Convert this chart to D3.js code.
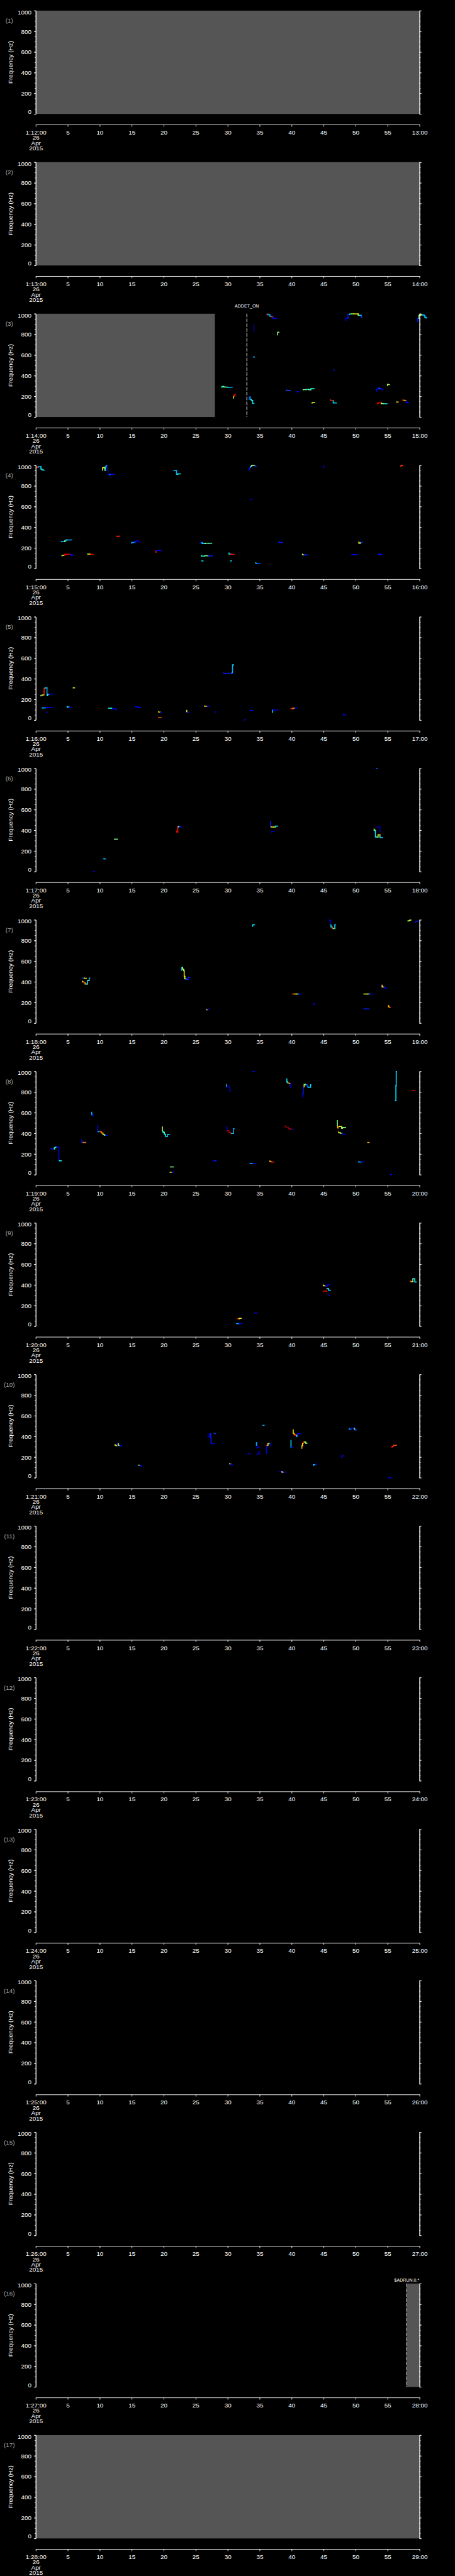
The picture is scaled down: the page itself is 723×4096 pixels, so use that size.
<!DOCTYPE html>
<html><head><meta charset="utf-8">
<script src="https://cdn.jsdelivr.net/npm/d3@7"></script>
<style>html,body{margin:0;padding:0;background:#000;overflow:hidden}</style>
</head><body><div id="chart"></div>
<script>
// ---------- DATA ----------
const startLabels = ["1:12:00","1:13:00","1:14:00","1:15:00","1:16:00","1:17:00","1:18:00","1:19:00","1:20:00","1:21:00","1:22:00","1:23:00","1:24:00","1:25:00","1:26:00","1:27:00","1:28:00"];
const endLabels = ["13:00","14:00","15:00","16:00","17:00","18:00","19:00","20:00","21:00","22:00","23:00","24:00","25:00","26:00","27:00","28:00","29:00"];
const minuteTicks = [0,5,10,15,20,25,30,35,40,45,50,55,60];
const dateLines = ["26","Apr","2015"];
const freqTicks = [0,200,400,600,800,1000];
const freqMinor = d3.range(0,1001,50);
const axisTitle = "Frequency (Hz)";
// [panel, fromMinute, toMinute]
const grayBlocks = [[1,0,60],[2,0,60],[3,0,28],[16,58,60],[17,0,60]];
// [panel, minute, label]
const events = [[3,33,"ADDET_ON"],[16,58,"$ADRUN,0,*"]];

// tracks: [minute, Hz, colour level 0..1]
const tracks3 = [
 [[29.1,285,0.3],[29.4,295,0.4],[29.9,290,0.5],[30.2,288,0.35],[30.7,288,0.3]],
 [[30.9,183,0.5],[31.0,200,0.6],[31.1,215,0.9],[31.25,215,0.9]],
 [[33.35,173,0.1],[33.5,193,0.2],[33.7,170,0.3],[33.9,160,0.4],[34.1,131,0.35]],
 [[34.1,892,0.05],[34.15,832,0.05]],
 [[34.05,584,0.85],[34.2,580,0.3]],
 [[36.15,988,0.4],[36.3,995,0.85],[36.6,990,0.3],[36.9,975,0.3],[37.1,968,0.85],[37.6,954,0.1]],
 [[37.8,795,0.2],[38.0,820,0.5]],
 [[39.2,262,0.1],[39.8,258,0.2]],
 [[40.8,245,0.15],[41.1,245,0.1]],
 [[41.8,262,0.3],[42.3,266,0.5],[42.6,268,0.4],[43.0,264,0.5],[43.5,275,0.4]],
 [[43.2,135,0.55],[43.6,139,0.6]],
 [[46.55,455,0.1],[46.7,455,0.15]],
 [[46.1,169,0.2],[46.5,157,0.85],[47.0,136,0.35]],
 [[48.5,935,0.05],[48.8,957,0.1],[49.05,993,0.15],[49.3,998,0.35],[49.7,998,0.55],[50.4,998,0.6],[50.5,985,0.65],[50.9,985,0.4],[51.0,967,0.2]],
 [[53.25,245,0.05],[53.5,270,0.1],[53.7,280,0.15],[54.0,275,0.2],[54.3,265,0.1]],
 [[55.0,305,0.55],[55.1,316,0.6],[55.3,314,0.5]],
 [[53.4,125,0.1],[53.6,135,0.9],[54.0,137,0.9],[54.3,130,0.6],[54.9,128,0.4]],
 [[56.4,145,0.65],[56.65,145,0.6]],
 [[57.4,165,0.85],[57.7,162,0.8],[57.9,157,0.65],[58.1,140,0.1],[58.3,137,0.1]],
 [[59.7,925,0.1],[59.9,955,0.15],[60.2,985,0.5],[60.5,990,0.55],[60.8,985,0.3],[61.0,965,0.3],[61.1,960,0.35]]
];
const tracks4 = [
 [[0.2,984,0.6],[0.4,981,0.85],[0.8,987,0.3],[0.95,962,0.35],[1.2,955,0.4],[1.35,951,0.3]],
 [[10.45,951,0.6],[10.6,977,0.6],[10.8,977,0.6],[10.9,951,0.6],[11.0,984,0.35],[11.2,998,0.3],[11.3,948,0.05],[11.5,905,0.05],[11.8,912,0.2],[12.2,912,0.1]],
 [[21.6,951,0.35],[22.0,948,0.3],[22.2,912,0.3],[22.6,916,0.4]],
 [[33.4,951,0.05],[33.55,977,0.1],[33.75,991,0.3],[33.95,998,0.5],[34.3,998,0.55],[34.5,987,0.15]],
 [[44.95,998,0.3],[45.1,979,0.05]],
 [[57.1,985,0.65],[57.3,998,0.8],[57.4,998,0.85]],
 [[33.65,671,0.3],[33.8,668,0.1]],
 [[4.0,263,0.1],[4.5,260,0.3],[4.7,268,0.5],[4.9,277,0.35],[5.6,277,0.3]],
 [[4.1,123,0.1],[4.5,127,0.6],[4.8,138,0.9],[5.4,138,0.9],[5.6,132,0.1],[5.8,126,0.1]],
 [[8.1,140,0.85],[8.6,140,0.6],[9.0,137,0.9]],
 [[12.7,310,0.85],[13.1,313,0.85]],
 [[15.0,246,0.6],[15.4,252,0.3],[15.6,258,0.2],[16.0,268,0.1],[16.4,258,0.05]],
 [[18.8,157,0.3],[18.85,174,0.85],[19.6,174,0.1]],
 [[25.7,248,0.3],[26.0,252,0.1],[26.5,242,0.35],[27.0,245,0.5],[27.5,245,0.45]],
 [[25.9,127,0.35],[26.4,120,0.4],[27.0,123,0.5],[27.6,123,0.15]],
 [[25.95,74,0.35],[26.15,74,0.35]],
 [[30.2,151,0.3],[30.5,140,0.35],[31.0,137,0.85]],
 [[30.45,74,0.35],[30.6,74,0.35]],
 [[34.4,57,0.3],[34.6,50,0.35],[35.0,47,0.2]],
 [[38.0,258,0.35],[38.6,253,0.15]],
 [[41.7,138,0.7],[42.0,133,0.55],[42.5,132,0.15]],
 [[49.4,136,0.35],[50.3,135,0.1]],
 [[50.5,258,0.1],[50.7,246,0.65],[50.9,250,0.5],[51.1,255,0.15]],
 [[53.6,142,0.6],[53.9,137,0.15],[54.2,135,0.1]]
];
const tracks5 = [
 [[0.8,234,0.1],[1.1,240,0.5],[1.3,245,0.65],[1.45,309,0.85],[1.75,312,0.35],[1.85,239,0.3],[2.1,250,0.4],[2.66,252,0.1]],
 [[5.85,312,0.6],[6.05,312,0.6]],
 [[1.0,115,0.35],[1.5,118,0.3],[2.0,121,0.15],[2.66,123,0.1]],
 [[1.7,76,0.1],[1.9,76,0.1]],
 [[4.9,131,0.6],[5.2,127,0.4],[5.5,121,0.1]],
 [[11.4,115,0.1],[12.0,115,0.4],[12.5,110,0.1],[12.6,99,0.1]],
 [[15.5,131,0.35],[16.0,129,0.1],[16.4,121,0.1]],
 [[19.2,81,0.6],[19.5,77,0.65],[19.7,74,0.1]],
 [[19.2,24,0.8],[19.6,24,0.8]],
 [[23.6,94,0.4],[23.75,80,0.6],[24.0,73,0.1]],
 [[26.4,137,0.6],[26.8,134,0.65],[27.1,136,0.1]],
 [[28.05,78,0.1],[28.2,78,0.1]],
 [[29.4,458,0.2],[29.6,450,0.15],[30.6,450,0.15],[30.75,458,0.2],[30.8,530,0.3],[30.9,535,0.35]],
 [[32.6,2,0.1],[32.8,2,0.1]],
 [[33.5,98,0.35],[33.9,92,0.1]],
 [[37.0,74,0.3],[37.05,98,0.35],[37.8,98,0.1]],
 [[39.9,113,0.65],[40.2,110,0.85],[40.5,116,0.7],[40.9,116,0.1]],
 [[48.1,57,0.1],[48.5,50,0.1]]
];
const tracks6 = [
 [[9.0,2,0.1],[9.15,2,0.1]],
 [[10.65,129,0.1],[10.9,123,0.3]],
 [[12.3,314,0.5],[12.75,314,0.5]],
 [[22.0,393,0.75],[22.2,383,0.9],[22.3,434,0.85],[22.5,437,0.5],[22.8,430,0.1]],
 [[36.7,485,0.1],[36.8,434,0.15],[37.2,432,0.65],[37.5,432,0.6],[37.8,440,0.35]],
 [[36.9,382,0.1],[37.3,388,0.1]],
 [[52.9,412,0.5],[53.1,399,0.55],[53.25,335,0.35],[53.5,335,0.4],[53.55,356,0.6],[53.8,356,0.65],[53.9,332,0.5],[54.2,330,0.3]],
 [[53.3,433,0.3],[53.8,433,0.05],[53.85,388,0.05]],
 [[53.25,999,0.3],[53.45,996,0.2]]
];
const tracks7 = [
 [[7.35,436,0.1],[7.6,436,0.2],[7.9,434,0.65]],
 [[7.3,405,0.3],[7.5,400,0.6],[7.7,392,0.85],[7.9,379,0.7],[8.1,379,0.35],[8.15,412,0.35],[8.35,412,0.5],[8.45,436,0.3]],
 [[22.8,511,0.1],[22.95,539,0.3],[23.1,522,0.6],[23.2,508,0.5],[23.3,453,0.65],[23.5,429,0.6],[23.8,422,0.15],[24.1,443,0.15]],
 [[26.7,130,0.65],[26.9,130,0.6],[27.1,138,0.1]],
 [[33.9,937,0.1],[34.0,952,0.35],[34.2,952,0.35]],
 [[45.9,998,0.35],[46.05,995,0.1],[46.15,952,0.1],[46.35,930,0.35],[46.55,916,0.8],[46.75,916,0.5],[46.85,952,0.35]],
 [[40.15,282,0.9],[40.5,282,0.8],[40.8,282,0.65],[41.1,282,0.5],[41.5,282,0.1]],
 [[43.5,196,0.1],[43.6,181,0.05]],
 [[51.3,282,0.8],[51.8,282,0.65],[52.2,282,0.5],[52.7,282,0.1]],
 [[51.3,138,0.4],[52.1,138,0.15]],
 [[54.0,353,0.1],[54.15,367,0.1],[54.45,350,0.65],[54.85,340,0.1]],
 [[55.15,171,0.6],[55.3,158,0.7],[55.4,150,0.8]],
 [[58.2,987,0.4],[58.45,992,0.5],[58.65,998,0.6]],
 [[59.4,972,0.1],[59.55,987,0.1],[59.8,987,0.15]]
];
const tracks8 = [
 [[2.4,251,0.1],[2.9,248,0.15],[3.1,261,0.45],[3.3,268,0.35],[3.6,268,0.1],[3.7,137,0.1],[4.0,134,0.4]],
 [[7.2,337,0.1],[7.4,312,0.15],[7.8,312,0.75]],
 [[8.75,605,0.35],[8.9,580,0.3],[9.0,571,0.1]],
 [[9.7,476,0.05],[9.75,416,0.1],[10.1,420,0.3],[10.3,413,0.8],[10.5,402,0.75],[10.7,390,0.6],[10.95,382,0.5],[11.25,380,0.1]],
 [[19.8,462,0.6],[19.9,420,0.55],[20.1,409,0.4],[20.3,392,0.45],[20.55,369,0.35],[20.7,387,0.35],[20.9,387,0.3]],
 [[21.05,75,0.5],[21.5,75,0.5]],
 [[21.0,23,0.1],[21.3,23,0.65],[21.6,23,0.1]],
 [[27.75,140,0.1],[28.0,134,0.1],[28.2,134,0.15]],
 [[29.8,870,0.35],[29.9,853,0.3],[30.3,853,0.05],[30.4,813,0.05],[30.5,810,0.05]],
 [[29.9,462,0.05],[30.0,426,0.1],[30.2,423,0.95],[30.4,409,0.95],[30.6,400,0.95],[30.9,400,0.35],[31.0,445,0.3]],
 [[33.5,107,0.1],[34.0,107,0.3],[34.4,110,0.1]],
 [[33.9,999,0.3],[34.2,999,0.1]],
 [[36.6,132,0.5],[36.8,127,0.65],[37.2,122,0.85]],
 [[39.0,473,1.0],[39.2,462,1.0],[39.5,459,1.0],[39.7,445,1.0],[40.0,440,0.9],[40.2,440,0.1]],
 [[39.25,927,0.1],[39.3,900,0.35],[39.45,891,0.4],[39.65,884,0.8],[39.8,880,0.5],[39.9,846,0.1]],
 [[41.7,755,0.05],[41.8,781,0.1],[41.95,849,0.15],[42.15,874,0.65],[42.4,870,0.4],[42.55,856,0.1],[42.7,846,0.35],[42.95,846,0.3],[43.0,870,0.35]],
 [[47.15,523,0.05],[47.2,469,0.5],[47.3,452,0.65],[47.5,469,0.8],[47.8,466,0.6],[47.95,449,0.55],[48.1,456,0.5],[48.45,456,0.5]],
 [[47.35,414,0.35],[47.6,406,0.65],[47.9,400,0.5],[48.3,392,0.1]],
 [[51.9,312,0.75],[52.1,312,0.7]],
 [[50.5,128,0.35],[50.9,122,0.3],[51.3,125,0.1]],
 [[55.45,2,0.1],[55.65,2,0.1]],
 [[56.2,717,0.35],[56.3,717,0.35],[56.3,860,0.35],[56.35,860,0.35],[56.4,999,0.35]],
 [[58.85,814,0.9],[59.25,814,0.9]]
];
const tracks9 = [
 [[31.5,72,0.9],[31.8,72,0.85],[32.1,76,0.6]],
 [[31.4,25,0.35],[31.8,25,0.3],[32.2,25,0.1]],
 [[34.2,128,0.35],[34.6,128,0.1]],
 [[44.95,398,0.1],[45.3,392,0.65],[45.6,388,0.1],[46.0,400,0.1]],
 [[45.0,334,0.5],[45.2,341,0.9],[45.5,338,0.9],[45.55,364,0.95],[45.75,364,0.4],[45.85,348,0.35],[46.1,346,0.3]],
 [[45.7,309,0.1],[45.9,298,0.05]],
 [[58.55,441,0.6],[58.7,431,0.85],[58.95,431,0.6],[59.05,460,0.5],[59.25,458,0.4],[59.3,428,0.35],[59.5,428,0.35]]
];
const tracks10 = [
 [[12.4,321,0.1],[12.55,315,0.65],[12.75,311,0.6],[12.9,333,0.1],[13.05,313,0.6],[13.2,310,0.3],[13.45,310,0.1]],
 [[16.1,122,0.35],[16.3,120,0.5],[16.6,113,0.1]],
 [[26.9,397,0.3],[27.15,397,0.1],[27.2,426,0.1],[27.35,426,0.1],[27.4,387,0.15],[27.5,333,0.15],[27.9,330,0.1]],
 [[27.9,428,0.3],[28.05,428,0.2]],
 [[30.3,135,0.5],[30.5,135,0.65],[30.8,125,0.1]],
 [[33.2,232,0.45],[33.5,232,0.1]],
 [[34.5,340,0.35],[34.6,314,0.3],[34.75,292,0.1],[34.9,292,0.1]],
 [[34.6,228,0.1],[34.9,230,0.1],[35.05,251,0.1]],
 [[35.5,507,0.35],[35.7,507,0.3]],
 [[36.05,232,0.35],[36.15,311,0.1],[36.3,315,0.8],[36.5,333,0.6],[36.65,330,0.3],[36.75,315,0.1]],
 [[38.1,60,0.1],[38.5,60,0.1],[38.7,53,0.65],[39.05,55,0.15]],
 [[39.9,361,0.5],[39.95,294,0.35],[40.2,294,0.1]],
 [[40.25,464,0.65],[40.4,428,0.65],[40.6,416,0.75],[40.8,411,0.85],[40.95,400,0.4],[41.1,426,0.15],[41.4,426,0.1]],
 [[41.6,285,0.35],[41.7,311,0.7],[41.85,333,0.65],[42.0,346,0.85],[42.2,345,0.6],[42.4,333,0.5]],
 [[43.45,120,0.15],[43.7,128,0.35],[43.9,130,0.1]],
 [[47.85,196,0.1],[48.0,211,0.1],[48.1,211,0.1]],
 [[49.0,476,0.35],[49.3,470,0.3],[49.5,480,0.1],[49.8,480,0.1],[49.95,469,0.5],[50.1,463,0.2]],
 [[55.15,0,0.1],[55.55,0,0.1]],
 [[55.7,292,0.85],[55.9,302,0.85],[56.05,314,0.85],[56.4,314,0.8]]
];
const panelTracks = {3:tracks3,4:tracks4,5:tracks5,6:tracks6,7:tracks7,8:tracks8,9:tracks9,10:tracks10};

// ---------- LAYOUT ----------
const W = 1024, H = 5802, NP = 17;
const PITCH = H / NP, TOP0 = 24, PH = 232.7, X0 = 80.5, X1 = 944.3;
const FONT = "'Liberation Sans', Arial, sans-serif";
const labelLift = [14, 4.3];

const svg = d3.select("#chart").append("svg")
  .attr("width", 723).attr("height", 4096)
  .attr("viewBox", `0 0 ${W} ${H}`)
  .style("display","block").style("background","#000");
svg.append("rect").attr("width",W).attr("height",H).attr("fill","#000");

const jet = d3.scaleLinear()
  .domain([0,0.125,0.375,0.625,0.875,1])
  .range(["#00007f","#0000ff","#00ffff","#ffff00","#ff0000","#7f0000"])
  .clamp(true);

const x = d3.scaleLinear().domain([0,60]).range([X0,X1]);

function styleAxis(g){
  g.select(".domain").attr("stroke","#fff").attr("stroke-width",1.3);
  g.selectAll(".tick line").attr("stroke","#fff").attr("stroke-width",1.3);
  g.selectAll("text").attr("fill","#fff").attr("font-family",FONT).attr("font-size",14);
}

for (let k = 1; k <= NP; k++) {
  const T = TOP0 + (k-1)*PITCH, B = T + PH;
  const y = d3.scaleLinear().domain([0,1000]).range([B,T]);
  const g = svg.append("g").attr("class","panel");

  // gray no-data blocks
  grayBlocks.filter(d => d[0] === k).forEach(d => {
    g.append("rect").attr("x", x(d[1])).attr("y", T)
      .attr("width", x(d[2]) - x(d[1])).attr("height", B - T)
      .attr("fill", "#555555");
  });

  // detection tracks (stepped, jet colour)
  const tr = panelTracks[k] || [];
  tr.forEach(track => {
    for (let i = 1; i < track.length; i++) {
      const a = track[i-1], b = track[i];
      g.append("path")
        .attr("d", `M${x(a[0])},${y(a[1])}V${y(b[1])}H${x(b[0])}`)
        .attr("fill","none").attr("stroke", jet(b[2]))
        .attr("stroke-width", 2.2).attr("stroke-linecap","square");
    }
  });

  // events
  events.forEach((e, i) => {
    if (e[0] !== k) return;
    g.append("line").attr("x1", x(e[1])).attr("x2", x(e[1]))
      .attr("y1", T).attr("y2", B)
      .attr("stroke","#fff").attr("stroke-width",1.4).attr("stroke-dasharray","8,3");
    g.append("text").attr("x", x(e[1])).attr("y", T - labelLift[i])
      .attr("text-anchor","middle").attr("fill","#fff")
      .attr("font-family",FONT).attr("font-size",10).text(e[2]);
  });

  // left axis
  const lMinor = g.append("g").attr("transform",`translate(${X0},0)`)
    .call(d3.axisLeft(y).tickValues(freqMinor).tickSize(2.4).tickSizeOuter(0).tickFormat(""));
  styleAxis(lMinor);
  const lMajor = g.append("g").attr("transform",`translate(${X0},0)`)
    .call(d3.axisLeft(y).tickValues(freqTicks).tickSize(4.2).tickSizeOuter(0).tickPadding(5.5).tickFormat(d => String(d)));
  styleAxis(lMajor);
  lMajor.selectAll(".tick text").attr("dy", d => d === 0 ? "-0.02em" : (d === 1000 ? "0.55em" : "0.34em"));

  // right axis
  const rMinor = g.append("g").attr("transform",`translate(${X1},0)`)
    .call(d3.axisRight(y).tickValues(freqMinor).tickSize(2.4).tickSizeOuter(0).tickFormat(""));
  styleAxis(rMinor);
  const rMajor = g.append("g").attr("transform",`translate(${X1},0)`)
    .call(d3.axisRight(y).tickValues(freqTicks).tickSize(4.4).tickSizeOuter(0).tickFormat(""));
  styleAxis(rMajor);

  // time axis
  const ty = T + 256.7;
  const tAx = g.append("g").attr("transform",`translate(0,${ty})`)
    .call(d3.axisBottom(x).tickValues(minuteTicks).tickSize(4.5).tickSizeOuter(0)
      .tickFormat(d => d === 0 ? startLabels[k-1] : (d === 60 ? endLabels[k-1] : String(d))));
  styleAxis(tAx);
  tAx.selectAll(".tick text").attr("y", 22.6).attr("dy", null);
  const dy = [34.3, 46, 58.3];
  dateLines.forEach((s, i) => {
    tAx.selectAll(".tick").filter(d => d === 0).append("text")
      .attr("y", dy[i]).attr("x", 0).attr("text-anchor","middle")
      .attr("fill","#fff").attr("font-family",FONT).attr("font-size",14).text(s);
  });

  // panel number
  g.append("text").attr("x", 21).attr("y", T + 27.5).attr("text-anchor","middle")
    .attr("fill","#aaaaaa").attr("font-family",FONT).attr("font-size",14).text(`(${k})`);

  // y title
  g.append("text").attr("transform",`translate(23,${T + PH/2}) rotate(-90)`)
    .attr("text-anchor","middle").attr("dominant-baseline","central")
    .attr("fill","#fff").attr("font-family",FONT).attr("font-size",14).text(axisTitle);
}
</script>
</body></html>
